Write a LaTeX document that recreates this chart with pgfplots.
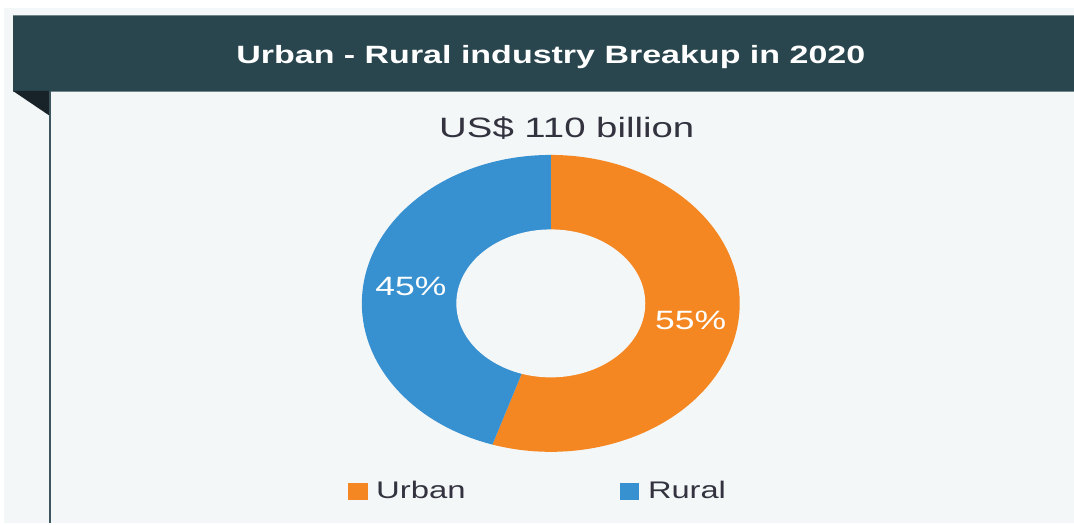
\documentclass[border=0pt]{standalone}
\usepackage{fontspec}
\setmainfont{Liberation Sans}
\usepackage{pgfplots}
\usepackage{pgfplotstable}
\pgfplotsset{compat=1.18}
\definecolor{bgpanel}{HTML}{F4F7F8}
\definecolor{header}{HTML}{29464E}
\definecolor{headeredge}{HTML}{71858B}
\definecolor{fold}{HTML}{172328}
\definecolor{vline}{HTML}{3D555C}
\definecolor{urban}{HTML}{F48722}
\definecolor{rural}{HTML}{3790D0}
\definecolor{txt}{HTML}{333340}

\pgfplotstableread{
label value
Urban 55
Rural 45
}\sharetable

\begin{document}
\begin{tikzpicture}
\pgfplotstablegetelem{0}{value}\of\sharetable \pgfmathsetmacro{\vU}{\pgfplotsretval}
\pgfplotstablegetelem{1}{value}\of\sharetable \pgfmathsetmacro{\vR}{\pgfplotsretval}
\pgfmathsetmacro{\aU}{90-3.6*\vU}
\pgfmathsetmacro{\aR}{90+3.6*\vR}
\pgfmathsetmacro{\mU}{90-1.8*\vU}
\pgfmathsetmacro{\mR}{90+1.8*\vR}
\pgfmathsetmacro{\xU}{551+141.75*cos(\mU)}
\pgfmathsetmacro{\yU}{303.5-111.4*sin(\mU)}
\pgfmathsetmacro{\xR}{551+141.75*cos(\mR)}
\pgfmathsetmacro{\yR}{303.5-111.4*sin(\mR)}
\begin{axis}[scale only axis, width=1074pt, height=523pt,
  xmin=0, xmax=1074, ymin=0, ymax=523, y dir=reverse,
  hide axis, clip=false]
% background
\fill[white] (axis cs:0,0) rectangle (axis cs:1074,523);
\fill[bgpanel] (axis cs:4,8) rectangle (axis cs:1074,523);
% header
\fill[header] (axis cs:13,15) rectangle (axis cs:1074,91);
\draw[headeredge, line width=0.8pt] (axis cs:13,15) -- (axis cs:1074,15);
\draw[headeredge, line width=0.8pt] (axis cs:13,91) -- (axis cs:1074,91);
\fill[fold] (axis cs:13,91) -- (axis cs:50,91) -- (axis cs:50,116) -- cycle;
\draw[vline, line width=2.5pt] (axis cs:50,91) -- (axis cs:50,523);
\node[anchor=base, text=white, font=\fontsize{25}{30}\selectfont\bfseries, xscale=1.36, transform shape]
  at (axis cs:551,64) {Urban - Rural industry Breakup in 2020};
\node[anchor=base, text=txt, font=\fontsize{28}{33}\selectfont, xscale=1.37, transform shape]
  at (axis cs:567,138) {US\$ 110 billion};
% donut
\fill[urban] (axis cs:551,303.5) -- (axis cs:551,155)
  arc[start angle=90, end angle=\aU, x radius=189pt, y radius=148.5pt] -- cycle;
\fill[rural] (axis cs:551,303.5) -- (axis cs:551,155)
  arc[start angle=90, end angle=\aR, x radius=189pt, y radius=148.5pt] -- cycle;
\fill[bgpanel] (axis cs:551,303.5) ellipse[x radius=94.5pt, y radius=74pt];
\node[text=white, font=\fontsize{26.5}{30}\selectfont, xscale=1.34, transform shape]
  at (axis cs:\xU,\yU) {55\%};
\node[text=white, font=\fontsize{26.5}{30}\selectfont, xscale=1.34, transform shape]
  at (axis cs:\xR,\yR) {45\%};
% legend
\fill[urban] (axis cs:348,483) rectangle (axis cs:368,500);
\node[anchor=base west, inner sep=0pt, text=txt, font=\fontsize{24}{28}\selectfont, xscale=1.37, transform shape]
  at (axis cs:376,499) {Urban};
\fill[rural] (axis cs:620,483) rectangle (axis cs:639,500);
\node[anchor=base west, inner sep=0pt, text=txt, font=\fontsize{24}{28}\selectfont, xscale=1.36, transform shape]
  at (axis cs:648,499) {Rural};
\end{axis}
\end{tikzpicture}
\end{document}
